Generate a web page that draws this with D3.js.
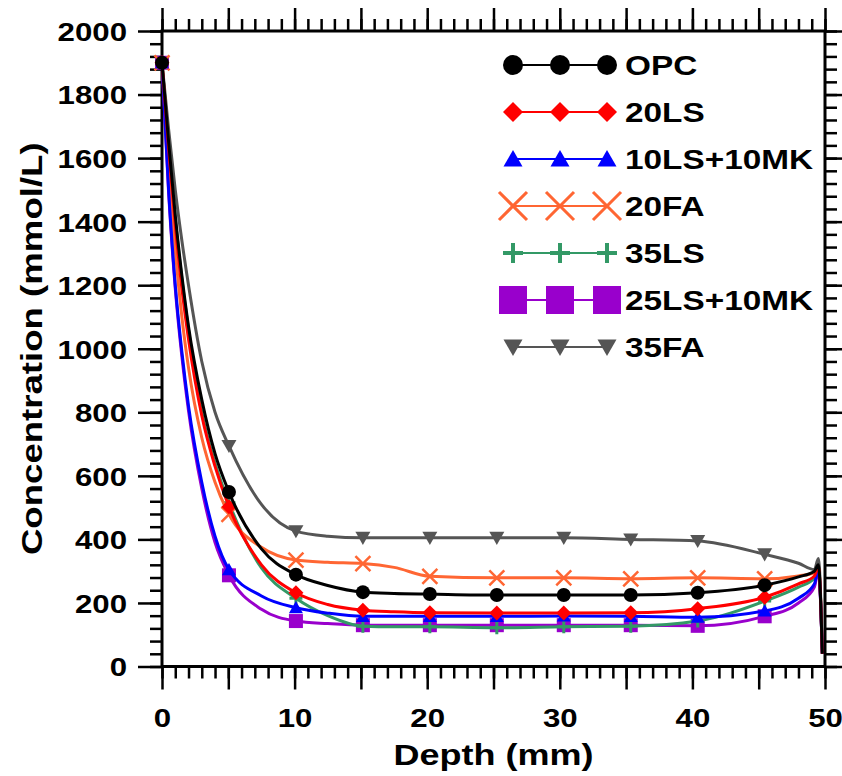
<!DOCTYPE html>
<html>
<head>
<meta charset="utf-8">
<script src="https://cdn.jsdelivr.net/npm/d3@7"></script>
<style>
  body { margin: 0; background: #fff; }
  text { font-family: "Liberation Sans", Arial, sans-serif; font-weight: bold; fill: #000; }
</style>
</head>
<body>
<svg id="chart" width="842" height="776"></svg>
<script>
// Chloride concentration profiles vs depth
const seriesNames   = ["OPC", "20LS", "10LS+10MK", "20FA", "35LS", "25LS+10MK", "35FA"];
const seriesColors  = ["#000000", "#ff0000", "#0000ff", "#ff6633", "#339966", "#9900cc", "#555555"];
const seriesSymbols = ["circle", "diamond", "triangle", "cross", "plus", "square", "triangleDown"];

// depth (mm) of each profile node
const depth = [0, 0.5, 1, 1.5, 2, 3, 4, 5.05, 7.5, 10.1, 12.5, 15.15, 17.5, 20.2, 25.25, 30.3, 35.35, 40.4, 45.45, 48, 49.2, 49.5, 49.8];
// depths that carry a marker
const markerDepth = [0, 5.05, 10.1, 15.15, 20.2, 25.25, 30.3, 35.35, 40.4, 45.45];

// concentration (mmol/L) at each depth node
const opc      = [1900, 1650, 1420, 1230, 1070, 840, 670, 549, 370, 289, 255, 234, 230, 228, 225, 225, 225, 232, 256, 282, 300, 320, 40];
const ls20     = [1900, 1630, 1390, 1190, 1030, 790, 630, 503, 320, 232, 195, 177, 172, 169, 168, 168, 169, 182, 218, 260, 285, 315, 40];
const ls10mk10 = [1900, 1500, 1200, 990, 820, 580, 410, 305, 222, 185, 168, 158, 158, 158, 158, 159, 158, 155, 175, 215, 260, 305, 40];
const fa20     = [1900, 1580, 1310, 1100, 940, 720, 580, 479, 375, 335, 328, 324, 312, 284, 279, 279, 276, 279, 276, 285, 295, 315, 40];
const ls35     = [1900, 1640, 1410, 1220, 1060, 800, 640, 515, 310, 215, 160, 127, 125, 125, 122, 125, 127, 143, 206, 250, 278, 310, 40];
const ls25mk10 = [1900, 1490, 1190, 975, 805, 560, 390, 287, 180, 143, 135, 130, 130, 130, 130, 130, 130, 128, 158, 200, 250, 300, 40];
const fa35     = [1900, 1690, 1500, 1340, 1200, 960, 800, 694, 510, 426, 410, 405, 405, 405, 405, 405, 400, 395, 353, 325, 305, 340, 40];
const seriesValues = [opc, ls20, ls10mk10, fa20, ls35, ls25mk10, fa35];

// axis ticks
const xLabelTicks = [0, 10, 20, 30, 40, 50];
const xMajorTicks = d3.range(0, 51, 5);
const xMinorTicks = d3.range(0, 51, 1);
const yLabelTicks = d3.range(0, 2001, 200);
const yMinorTicks = d3.range(0, 2001, 40);

const svg = d3.select("#chart");
const x = d3.scaleLinear().domain([0, 50]).range([162, 825]);
const y = d3.scaleLinear().domain([0, 2000]).range([666.5, 31]);

// stretch text horizontally (the lettering is a wide bold face)
function stretch(sel, k) {
  sel.each(function () {
    const L = this.getComputedTextLength();
    this.setAttribute("textLength", L * k);
    this.setAttribute("lengthAdjust", "spacingAndGlyphs");
  });
}

function styleAxis(g) {
  g.select(".domain").remove();
  g.selectAll(".tick line").attr("stroke", "#000").attr("stroke-width", 2.5);
}

const X0 = x(0), X1 = x(50), Y0 = y(0), Y1 = y(2000);

// minor ticks
svg.append("g").attr("transform", `translate(0,${Y0})`)
  .call(d3.axisBottom(x).tickValues(xMinorTicks).tickSize(12).tickFormat("")).call(styleAxis);
svg.append("g").attr("transform", `translate(0,${Y1})`)
  .call(d3.axisTop(x).tickValues(xMinorTicks).tickSize(12).tickFormat("")).call(styleAxis);
svg.append("g").attr("transform", `translate(${X0},0)`)
  .call(d3.axisLeft(y).tickValues(yMinorTicks).tickSize(12).tickFormat("")).call(styleAxis);
svg.append("g").attr("transform", `translate(${X1},0)`)
  .call(d3.axisRight(y).tickValues(yMinorTicks).tickSize(12).tickFormat("")).call(styleAxis);

// major ticks
svg.append("g").attr("transform", `translate(0,${Y0})`)
  .call(d3.axisBottom(x).tickValues(xMajorTicks).tickSize(23).tickFormat("")).call(styleAxis);
svg.append("g").attr("transform", `translate(0,${Y1})`)
  .call(d3.axisTop(x).tickValues(xMajorTicks).tickSize(23).tickFormat("")).call(styleAxis);
svg.append("g").attr("transform", `translate(${X0},0)`)
  .call(d3.axisLeft(y).tickValues(yLabelTicks).tickSize(24).tickFormat("")).call(styleAxis);
svg.append("g").attr("transform", `translate(${X1},0)`)
  .call(d3.axisRight(y).tickValues(yLabelTicks).tickSize(24).tickFormat("")).call(styleAxis);

// tick labels
const xLab = svg.append("g").attr("transform", `translate(0,${Y0})`)
  .call(d3.axisBottom(x).tickValues(xLabelTicks).tickSize(0).tickPadding(42).tickFormat(d3.format("d")));
xLab.select(".domain").remove();
xLab.selectAll("text").attr("font-size", 26).attr("font-family", null).attr("dy", "0").attr("y", 60);
stretch(xLab.selectAll("text"), 1.2);

const yLab = svg.append("g").attr("transform", `translate(${X0},0)`)
  .call(d3.axisLeft(y).tickValues(yLabelTicks).tickSize(0).tickPadding(35).tickFormat(d3.format("d")));
yLab.select(".domain").remove();
yLab.selectAll("text").attr("font-size", 26).attr("font-family", null).attr("dy", "0.36em");
stretch(yLab.selectAll("text"), 1.2);

// frame
svg.append("rect").attr("x", X0).attr("y", Y1).attr("width", X1 - X0).attr("height", Y0 - Y1)
  .attr("fill", "none").attr("stroke", "#000").attr("stroke-width", 3);

// axis titles
const xt = svg.append("text").attr("x", (X0 + X1) / 2).attr("y", 765).attr("text-anchor", "middle")
  .attr("font-size", 30).text("Depth (mm)");
stretch(xt, 1.2);
const yt = svg.append("text").attr("transform", `translate(42,${(Y0 + Y1) / 2}) rotate(-90)`)
  .attr("text-anchor", "middle").attr("font-size", 30).text("Concentration (mmol/L)");
stretch(yt, 1.22);

// marker shapes
function drawMarker(g, type, color, s) {
  const h = s / 2;
  switch (type) {
    case "circle":
      g.append("circle").attr("r", h).attr("fill", color); break;
    case "diamond":
      g.append("path").attr("d", `M0,${-h} L${h},0 L0,${h} L${-h},0 Z`).attr("fill", color); break;
    case "triangle":
      g.append("path").attr("d", `M${-h},${h * 0.8} L${h},${h * 0.8} L0,${-h * 0.95} Z`).attr("fill", color); break;
    case "triangleDown":
      g.append("path").attr("d", `M${-h},${-h * 0.8} L${h},${-h * 0.8} L0,${h * 0.95} Z`).attr("fill", color); break;
    case "square":
      g.append("rect").attr("x", -h).attr("y", -h).attr("width", s).attr("height", s).attr("fill", color); break;
    case "cross":
      g.append("path").attr("d", `M${-h},${-h} L${h},${h} M${-h},${h} L${h},${-h}`)
        .attr("stroke", color).attr("stroke-width", Math.max(2.5, s * 0.11)).attr("fill", "none"); break;
    case "plus":
      g.append("path").attr("d", `M${-h},0 L${h},0 M0,${-h} L0,${h}`)
        .attr("stroke", color).attr("stroke-width", Math.max(3, s * 0.2)).attr("fill", "none"); break;
  }
}

const plotSize = { circle: 14, diamond: 15, triangle: 14, triangleDown: 15, square: 14, cross: 15, plus: 13 };

const line = d3.line().x(d => x(d[0])).y(d => y(d[1])).curve(d3.curveMonotoneX);

// draw in reverse so OPC ends on top
const plot = svg.append("g");
for (let i = seriesNames.length - 1; i >= 0; i--) {
  const pts = depth.map((d, j) => [d, seriesValues[i][j]]);
  const g = plot.append("g");
  g.append("path").attr("d", line(pts)).attr("fill", "none")
    .attr("stroke", seriesColors[i]).attr("stroke-width", 3).attr("stroke-linejoin", "round");
  pts.filter(p => markerDepth.includes(p[0])).forEach(p => {
    const m = g.append("g").attr("transform", `translate(${x(p[0])},${y(p[1])})`);
    drawMarker(m, seriesSymbols[i], seriesColors[i], plotSize[seriesSymbols[i]]);
  });
}

// legend
const legendSize = { circle: 20, diamond: 20, triangle: 19, triangleDown: 19, square: 28, cross: 28, plus: 20 };
const legend = svg.append("g");
seriesNames.forEach((name, i) => {
  const ry = 65 + i * 47;
  const g = legend.append("g");
  g.append("line").attr("x1", 513).attr("x2", 607).attr("y1", ry).attr("y2", ry)
    .attr("stroke", seriesColors[i]).attr("stroke-width", 2);
  [513, 560, 607].forEach(mx => {
    const m = g.append("g").attr("transform", `translate(${mx},${ry})`);
    drawMarker(m, seriesSymbols[i], seriesColors[i], legendSize[seriesSymbols[i]]);
  });
  const t = g.append("text").attr("x", 625).attr("y", ry + 10).attr("font-size", 28.5).text(name);
  stretch(t, 1.17);
});
</script>
</body>
</html>
